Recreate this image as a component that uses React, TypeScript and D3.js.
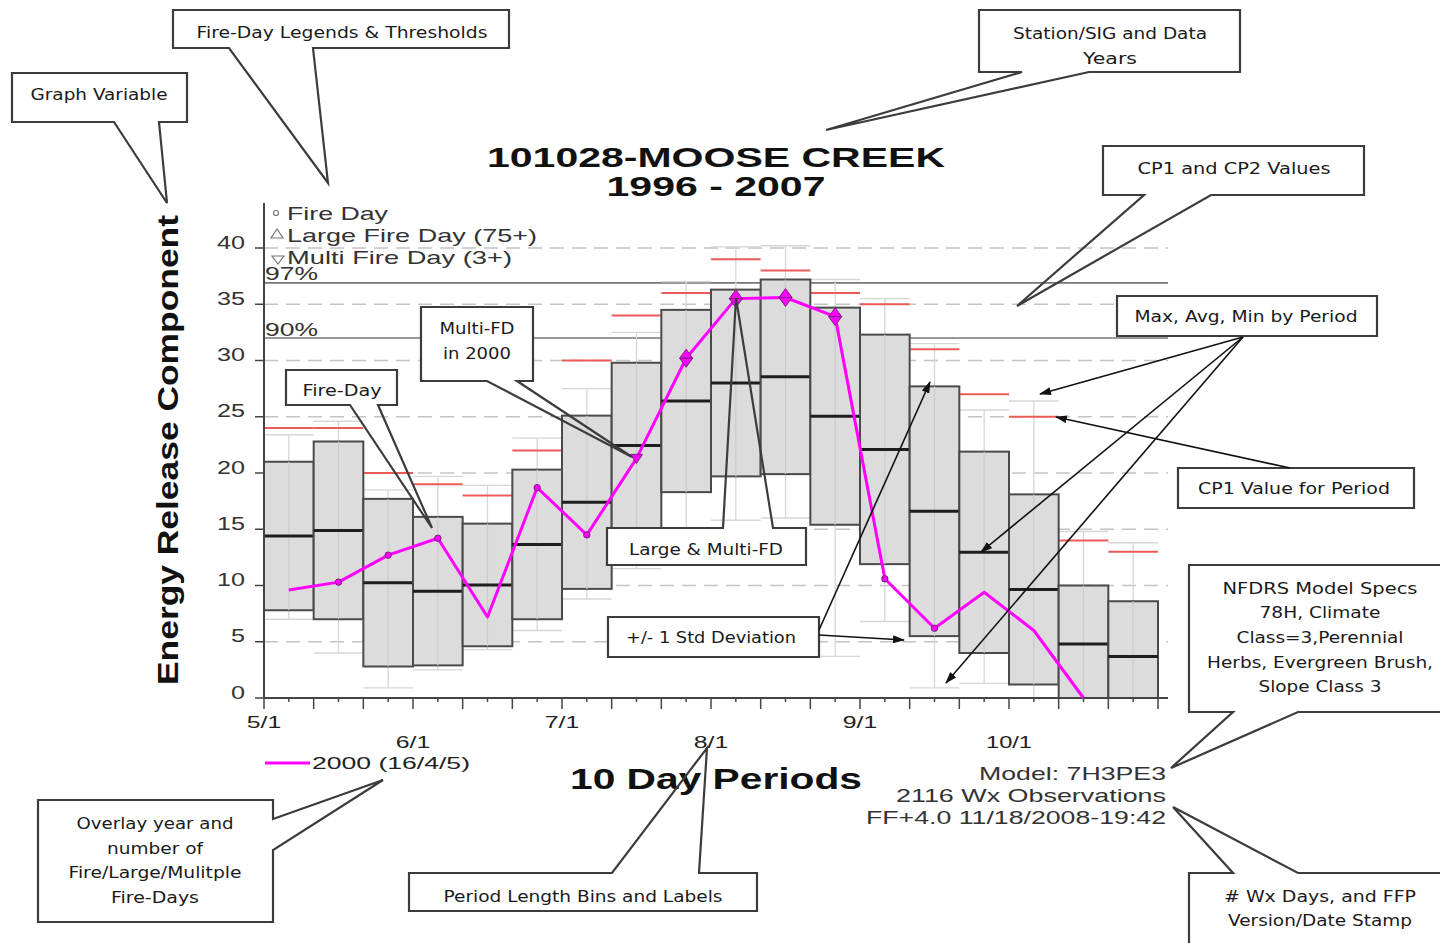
import React from 'react';
import * as d3 from 'd3';

// ---- chart values (ERC by 10 day period, 1996-2007) ----
const periodCount = 18;
const monthLabels = ['5/1', '6/1', '7/1', '8/1', '9/1', '10/1'];
const monthPeriodIndex = [0, 3, 6, 9, 12, 15];
const yTicks = [0, 5, 10, 15, 20, 25, 30, 35, 40];

const avgErc = [14.4, 14.9, 10.25, 9.5, 10.05, 13.65, 17.4, 22.45, 26.4, 28.0, 28.55, 25.05, 22.1, 16.6, 12.95, 9.65, 4.8, 3.7];
const stdErc = [6.6, 7.9, 7.45, 6.6, 5.45, 6.65, 7.7, 7.35, 8.1, 8.3, 8.65, 9.65, 10.2, 11.1, 8.95, 8.45, 5.2, 4.9];
const maxErc = [23.4, 24.6, 18.5, 19.7, 18.9, 23.1, 27.5, 32.5, 37.0, 40.1, 40.2, 37.2, 35.5, 31.5, 25.6, 26.4, 14.8, 13.8];
const minErc = [7.0, 4.0, 0.9, 2.5, 4.3, 6.0, 8.8, 11.5, 14.5, 15.8, 16.0, 3.7, 6.8, 0.9, 1.3, 0, 0, 0];
const cp1Erc = [24, 24, 20, 19, 18, 22, 30, 34, 36, 39, 38, 36, 35, 31, 27, 25, 14, 13];

const thresholdLabels = ['97%', '90%'];
const thresholdValues = [36.9, 32.0];

const overlayYear = '2000 (16/4/5)';
const overlay2000 = [9.6, 10.3, 12.7, 14.2, 7.2, 18.7, 14.5, 21.3, 30.2, 35.5, 35.6, 33.9, 10.6, 6.2, 9.4, 6.0, 0, null];
// F = fire day, M = multi fire day, LM = large & multi fire day
const fireDayType = ['', 'F', 'F', 'F', '', 'F', 'F', 'M', 'LM', 'LM', 'LM', 'LM', 'F', 'F', '', '', '', ''];

const legendItems = ['Fire Day', 'Large Fire Day (75+)', 'Multi Fire Day (3+)'];

// ---- annotation layout ----
const callouts = [
  { lines: ['Graph Variable'], widths: [137], cx: 99, cy: [94], rect: [12, 73, 187, 122], side: 'bottom', base: [114, 159], tip: [167, 203] },
  { lines: ['Fire-Day Legends & Thresholds'], widths: [291], cx: 342, cy: [32], rect: [173, 10, 509, 48], side: 'bottom', base: [229, 313], tip: [328, 183] },
  { lines: ['Station/SIG and Data', 'Years'], widths: [194, 54], cx: 1110, cy: [33, 58], rect: [979, 10, 1240, 72], side: 'bottom', base: [1022, 1089], tip: [826, 130] },
  { lines: ['CP1 and CP2 Values'], widths: [193], cx: 1234, cy: [168], rect: [1103, 146, 1364, 195], side: 'bottom', base: [1144, 1211], tip: [1017, 306] },
  { lines: ['Max, Avg, Min by Period'], widths: [223], cx: 1246, cy: [316], rect: [1117, 296, 1377, 336], side: null },
  { lines: ['CP1 Value for Period'], widths: [192], cx: 1294, cy: [488], rect: [1178, 468, 1414, 508], side: null },
  { lines: ['NFDRS Model Specs', '78H, Climate', 'Class=3,Perennial', 'Herbs, Evergreen Brush,', 'Slope Class 3'], widths: [195, 121, 167, 226, 123], cx: 1320, cy: [588, 612, 637, 662, 686], rect: [1189, 565, 1446, 712], side: 'bottom', base: [1233, 1298], tip: [1171, 768] },
  { lines: ['# Wx Days, and FFP', 'Version/Date Stamp'], widths: [192, 184], cx: 1320, cy: [896, 920], rect: [1189, 873, 1446, 950], side: 'top', base: [1233, 1298], tip: [1173, 807] },
  { lines: ['Overlay year and', 'number of', 'Fire/Large/Mulitple', 'Fire-Days'], widths: [157, 96, 173, 88], cx: 155, cy: [823, 848, 872, 897], rect: [38, 800, 273, 922], side: 'right', base: [819, 850], tip: [383, 780] },
  { lines: ['Period Length Bins and Labels'], widths: [279], cx: 583, cy: [896], rect: [409, 873, 757, 911], side: 'top', base: [612, 699], tip: [707, 748] },
  { lines: ['Multi-FD', 'in 2000'], widths: [75, 68], cx: 477, cy: [328, 353], rect: [421, 307, 533, 381], side: 'bottom', base: [487, 517], tip: [632, 457] },
  { lines: ['Fire-Day'], widths: [79], cx: 342, cy: [390], rect: [286, 370, 397, 405], side: 'bottom', base: [350, 378], tip: [432, 528] },
  { lines: ['Large & Multi-FD'], widths: [154], cx: 706, cy: [549], rect: [607, 528, 806, 565], side: 'top', base: [723, 773], tip: [736, 298] },
  { lines: ['+/- 1 Std Deviation'], widths: [170], cx: 711, cy: [637], rect: [608, 617, 819, 657], side: null },
];

const arrows = [
  [1243, 337, 1040, 394],
  [1243, 337, 981, 552],
  [1243, 337, 946, 683],
  [1290, 468, 1056, 417],
  [819, 630, 930, 382],
  [819, 635, 904, 640],
];

function calloutPath(c) {
  const [x0, y0, x1, y1] = c.rect;
  if (!c.side) return `M${x0},${y0}H${x1}V${y1}H${x0}Z`;
  const [a, b] = c.base;
  const [tx, ty] = c.tip;
  if (c.side === 'bottom') return `M${x0},${y0}H${x1}V${y1}H${b}L${tx},${ty}L${a},${y1}H${x0}Z`;
  if (c.side === 'top') return `M${x0},${y0}H${a}L${tx},${ty}L${b},${y0}H${x1}V${y1}H${x0}Z`;
  return `M${x0},${y0}H${x1}V${a}L${tx},${ty}L${x1},${b}V${y1}H${x0}Z`;
}

const SANS = 'Liberation Sans, Arial, sans-serif';
const NOTE = 'DejaVu Sans, sans-serif';

export default function App() {
  const x = d3.scaleLinear().domain([0, periodCount]).range([264, 1158]);
  const y = d3.scaleLinear().domain([0, 40]).range([698, 248]);
  const left = x(0);
  const right = x(periodCount) + 10;
  const bw = x(1) - x(0);

  const line = d3.line<number | null>()
    .defined(d => d != null)
    .x((d, i) => x(i + 0.5))
    .y(d => y(d as number));

  return (
    <svg width={1440} height={943} style={{ position: 'absolute', left: 0, top: 0, background: '#fff' }}>
      <defs>
        <marker id="arr" viewBox="0 0 12 8" refX="11" refY="4" markerWidth="12" markerHeight="8" markerUnits="userSpaceOnUse" orient="auto">
          <path d="M0,0L12,4L0,8Z" fill="#111" />
        </marker>
      </defs>

      {/* dashed grid */}
      {yTicks.filter(t => t > 0).map(t => (
        <line key={'g' + t} x1={left} x2={right} y1={y(t)} y2={y(t)} stroke="#c4c4c4" strokeWidth={1.5} strokeDasharray="14 8" />
      ))}

      {/* CP1/CP2 percentile lines */}
      {thresholdValues.map((v, i) => (
        <g key={'th' + i}>
          <line x1={left} x2={right} y1={y(v)} y2={y(v)} stroke="#777" strokeWidth={1.6} />
          <text x={left + 1} y={y(v) - 9} fontFamily={SANS} fontSize={19} fill="#333" dominantBaseline="central" textLength={53} lengthAdjust="spacingAndGlyphs">{thresholdLabels[i]}</text>
        </g>
      ))}

      {/* whiskers max/min */}
      {maxErc.map((mx, i) => (
        <g key={'w' + i} stroke="#d6d6d6" strokeWidth={1.3}>
          <line x1={x(i + 0.5)} x2={x(i + 0.5)} y1={y(mx)} y2={y(minErc[i])} />
          <line x1={x(i)} x2={x(i + 1)} y1={y(mx)} y2={y(mx)} />
          <line x1={x(i)} x2={x(i + 1)} y1={y(minErc[i])} y2={y(minErc[i])} />
        </g>
      ))}

      {/* CP1 by period */}
      {cp1Erc.map((v, i) => (
        <line key={'cp' + i} x1={x(i)} x2={x(i + 1)} y1={y(v)} y2={y(v)} stroke="#ec5a5a" strokeWidth={2} />
      ))}

      {/* +/- 1 std boxes */}
      {avgErc.map((a, i) => {
        const top = y(a + stdErc[i]);
        const bot = y(Math.max(0, a - stdErc[i]));
        return (
          <g key={'b' + i}>
            <rect x={x(i)} y={top} width={bw} height={bot - top} fill="#dcdcdc" stroke="#4a4a4a" strokeWidth={2} />
            <line x1={x(i + 0.5)} x2={x(i + 0.5)} y1={top} y2={bot} stroke="#cbcbcb" strokeWidth={1.2} />
            <line x1={x(i)} x2={x(i + 1)} y1={y(a)} y2={y(a)} stroke="#1e1e1e" strokeWidth={3} />
          </g>
        );
      })}

      {/* axes */}
      <line x1={left} x2={left} y1={203} y2={y(0)} stroke="#444" strokeWidth={2} />
      <line x1={left} x2={right} y1={y(0)} y2={y(0)} stroke="#444" strokeWidth={2} />
      {yTicks.map(t => (
        <g key={'yt' + t}>
          <line x1={left - 9} x2={left} y1={y(t)} y2={y(t)} stroke="#444" strokeWidth={1.5} />
          <text x={245} y={y(t) - 6} textAnchor="end" dominantBaseline="central" fontFamily={SANS} fontSize={19} fill="#333" textLength={String(t).length * 14} lengthAdjust="spacingAndGlyphs">{t}</text>
        </g>
      ))}
      {d3.range(periodCount + 1).map(i => (
        <line key={'xt' + i} x1={x(i)} x2={x(i)} y1={y(0)} y2={y(0) + 11} stroke="#444" strokeWidth={1.5} />
      ))}
      {d3.range(periodCount).map(i => (
        <line key={'xm' + i} x1={x(i + 0.5)} x2={x(i + 0.5)} y1={y(0)} y2={y(0) + 4} stroke="#444" strokeWidth={1.5} />
      ))}
      {monthLabels.map((m, i) => (
        <text key={m} x={x(monthPeriodIndex[i])} y={i % 2 === 0 ? 722 : 742} textAnchor="middle" dominantBaseline="central" fontFamily={SANS} fontSize={17} fill="#222" textLength={m.length * 11.5} lengthAdjust="spacingAndGlyphs">{m}</text>
      ))}

      {/* overlay year 2000 */}
      <path d={line(overlay2000) || ''} fill="none" stroke="#ff00ff" strokeWidth={3} strokeLinejoin="round" />
      {fireDayType.map((t, i) => {
        if (!t || overlay2000[i] == null) return null;
        const cx = x(i + 0.5);
        const cy = y(overlay2000[i] as number);
        if (t === 'F') return <circle key={'m' + i} cx={cx} cy={cy} r={3.2} fill="#ff00ff" stroke="#7a1f7a" strokeWidth={1} />;
        if (t === 'M') return <path key={'m' + i} d={`M${cx - 6},${cy - 4}L${cx + 6},${cy - 4}L${cx},${cy + 5}Z`} fill="#ff00ff" stroke="#7a1f7a" strokeWidth={1} />;
        return (
          <g key={'m' + i} fill="#ff00ff" stroke="#7a1f7a" strokeWidth={1}>
            <path d={`M${cx - 6.5},${cy}L${cx + 6.5},${cy}L${cx},${cy - 9}Z`} />
            <path d={`M${cx - 6.5},${cy}L${cx + 6.5},${cy}L${cx},${cy + 9}Z`} />
          </g>
        );
      })}

      {/* fire-day legend */}
      <circle cx={276} cy={213} r={2.5} fill="none" stroke="#777" strokeWidth={1.2} />
      <path d="M271,238L283,238L277,229Z" fill="none" stroke="#777" strokeWidth={1.2} />
      <path d="M272,256L284,256L278,264Z" fill="none" stroke="#777" strokeWidth={1.2} />
      {legendItems.map((s, i) => (
        <text key={s} x={287} y={213 + i * 22} dominantBaseline="central" fontFamily={SANS} fontSize={19} fill="#333" textLength={[101, 250, 225][i]} lengthAdjust="spacingAndGlyphs">{s}</text>
      ))}

      {/* titles */}
      <text x={716} y={157} textAnchor="middle" dominantBaseline="central" fontFamily={SANS} fontWeight="bold" fontSize={28} fill="#111" textLength={458} lengthAdjust="spacingAndGlyphs">101028-MOOSE CREEK</text>
      <text x={716} y={186} textAnchor="middle" dominantBaseline="central" fontFamily={SANS} fontWeight="bold" fontSize={28} fill="#111" textLength={219} lengthAdjust="spacingAndGlyphs">1996 - 2007</text>
      <text transform="translate(167,450) rotate(-90)" textAnchor="middle" dominantBaseline="central" fontFamily={SANS} fontWeight="bold" fontSize={30} fill="#111" textLength={470} lengthAdjust="spacingAndGlyphs">Energy Release Component</text>
      <text x={716} y={779} textAnchor="middle" dominantBaseline="central" fontFamily={SANS} fontWeight="bold" fontSize={29} fill="#111" textLength={292} lengthAdjust="spacingAndGlyphs">10 Day Periods</text>

      {/* overlay legend */}
      <line x1={265} x2={310} y1={763} y2={763} stroke="#ff00ff" strokeWidth={3} />
      <text x={312} y={763} dominantBaseline="central" fontFamily={SANS} fontSize={17} fill="#222" textLength={158} lengthAdjust="spacingAndGlyphs">{overlayYear}</text>

      {/* footnotes */}
      <text x={1166} y={773} textAnchor="end" dominantBaseline="central" fontFamily={SANS} fontSize={19} fill="#333" textLength={187} lengthAdjust="spacingAndGlyphs">Model: 7H3PE3</text>
      <text x={1166} y={795} textAnchor="end" dominantBaseline="central" fontFamily={SANS} fontSize={19} fill="#333" textLength={270} lengthAdjust="spacingAndGlyphs">2116 Wx Observations</text>
      <text x={1166} y={817} textAnchor="end" dominantBaseline="central" fontFamily={SANS} fontSize={19} fill="#333" textLength={300} lengthAdjust="spacingAndGlyphs">FF+4.0 11/18/2008-19:42</text>

      {/* callouts */}
      {callouts.map((c, k) => {
        const [x0, y0, x1, y1] = c.rect;
        return (
          <g key={'c' + k}>
            <rect x={x0} y={y0} width={x1 - x0} height={y1 - y0} fill="#fff" />
            <path d={calloutPath(c)} fill="none" stroke="#3c3c3c" strokeWidth={2.2} strokeLinejoin="miter" />
            {c.lines.map((s, j) => (
              <text key={j} x={c.cx} y={c.cy[j]} textAnchor="middle" dominantBaseline="central" fontFamily={NOTE} fontSize={16} fill="#1a1a1a" textLength={c.widths[j]} lengthAdjust="spacingAndGlyphs">{s}</text>
            ))}
          </g>
        );
      })}
      {arrows.map((a, k) => (
        <line key={'a' + k} x1={a[0]} y1={a[1]} x2={a[2]} y2={a[3]} stroke="#111" strokeWidth={1.6} markerEnd="url(#arr)" />
      ))}
    </svg>
  );
}
